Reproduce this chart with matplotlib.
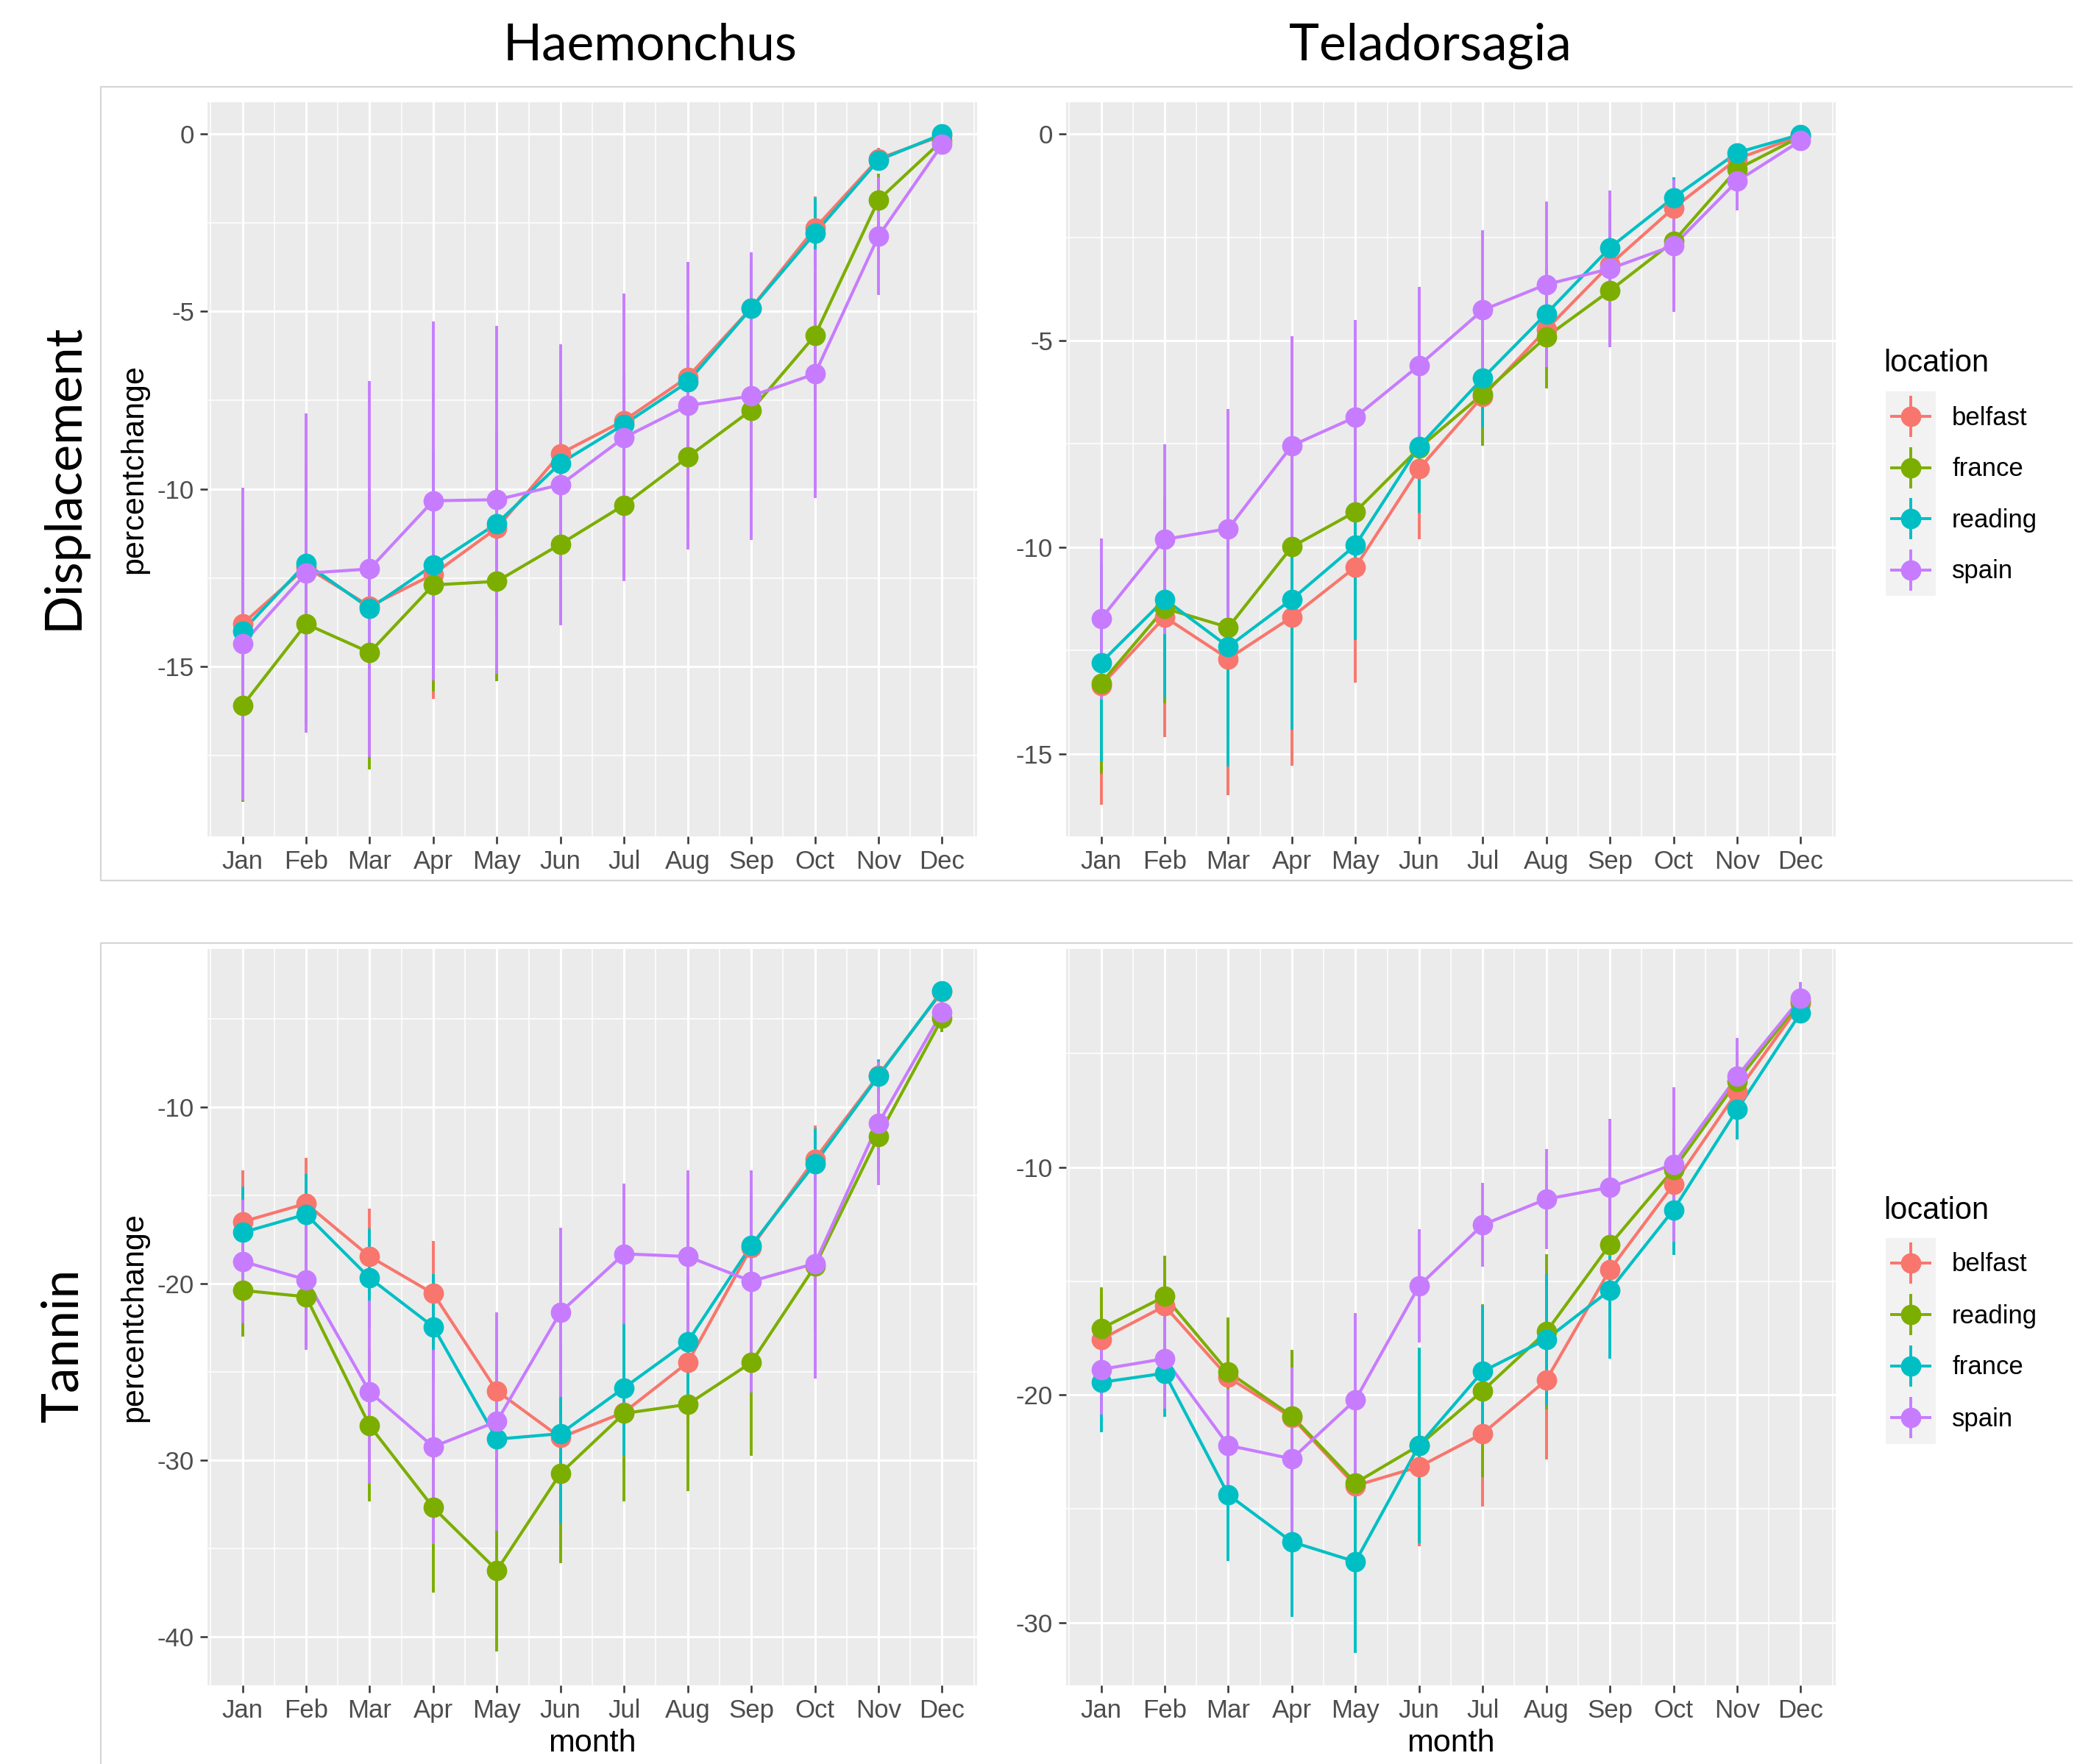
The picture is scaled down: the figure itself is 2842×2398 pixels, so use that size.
import matplotlib
matplotlib.use("Agg")
import matplotlib.pyplot as plt
import numpy as np
from matplotlib.patches import Rectangle

plt.rcParams['font.family'] = ['Liberation Sans', 'DejaVu Sans']
plt.rcParams['axes.unicode_minus'] = False

# --- Data ---
months = ["Jan", "Feb", "Mar", "Apr", "May", "Jun", "Jul", "Aug", "Sep", "Oct", "Nov", "Dec"]
colors = ["#F8766D", "#7CAE00", "#00BFC4", "#C77CFF"]
legend_top = ["belfast", "france", "reading", "spain"]
legend_bottom = ["belfast", "reading", "france", "spain"]

# Haemonchus / Displacement  (series order: red, green, cyan, purple)
haem_disp = [
    [-13.8, -12.2, -13.3, -12.4, -11.1, -9.0, -8.07, -6.85, -4.9, -2.66, -0.7, -0.05],
    [-16.1, -13.8, -14.6, -12.7, -12.6, -11.55, -10.45, -9.1, -7.78, -5.68, -1.86, -0.19],
    [-14.0, -12.1, -13.36, -12.14, -10.97, -9.27, -8.18, -6.99, -4.91, -2.8, -0.74, -0.01],
    [-14.36, -12.37, -12.25, -10.33, -10.3, -9.88, -8.55, -7.65, -7.38, -6.76, -2.88, -0.3],
]
haem_disp_err = [
    [2.9, 2.9, 3.2, 3.5, 2.9, 1.8, 1.4, 1.5, 1.3, 0.9, 0.3, 0.1],
    [2.7, 2.8, 3.3, 3.0, 2.8, 2.2, 2.0, 2.0, 2.0, 1.8, 0.75, 0.15],
    [2.5, 2.2, 3.0, 3.2, 2.6, 1.8, 1.4, 1.4, 1.3, 1.0, 0.3, 0.05],
    [4.4, 4.5, 5.3, 5.05, 4.9, 3.95, 4.05, 4.05, 4.05, 3.5, 1.65, 0.2],
]

# Teladorsagia / Displacement
tela_disp = [
    [-13.35, -11.69, -12.7, -11.69, -10.48, -8.1, -6.35, -4.73, -3.16, -1.79, -0.6, -0.04],
    [-13.29, -11.48, -11.94, -9.99, -9.14, -7.6, -6.29, -4.91, -3.79, -2.6, -0.85, -0.06],
    [-12.79, -11.26, -12.41, -11.26, -9.95, -7.56, -5.91, -4.35, -2.75, -1.54, -0.45, -0.01],
    [-11.73, -9.81, -9.55, -7.54, -6.85, -5.6, -4.26, -3.64, -3.26, -2.7, -1.14, -0.16],
]
tela_disp_err = [
    [2.88, 2.9, 3.3, 3.6, 2.8, 1.7, 1.1, 1.0, 0.9, 0.6, 0.3, 0.05],
    [2.2, 2.3, 2.6, 2.5, 2.1, 1.5, 1.25, 1.25, 1.3, 0.9, 0.35, 0.05],
    [2.4, 2.4, 2.9, 3.15, 2.3, 1.6, 1.2, 1.1, 0.9, 0.5, 0.2, 0.03],
    [1.95, 2.3, 2.9, 2.65, 2.35, 1.9, 1.93, 2.0, 1.9, 1.6, 0.7, 0.1],
]

# Haemonchus / Tannin
haem_tan = [
    [-16.49, -15.46, -18.46, -20.56, -26.08, -28.72, -27.29, -24.47, -17.95, -12.94, -8.18, -3.45],
    [-20.38, -20.74, -28.05, -32.69, -36.24, -30.75, -27.35, -26.84, -24.47, -19.01, -11.64, -4.96],
    [-17.1, -16.07, -19.68, -22.44, -28.81, -28.5, -25.9, -23.29, -17.83, -13.19, -8.24, -3.39],
    [-18.74, -19.77, -26.14, -29.24, -27.81, -21.62, -18.31, -18.46, -19.86, -18.86, -10.91, -4.6],
]
haem_tan_err = [
    [2.9, 2.6, 2.7, 3.0, 3.5, 3.5, 3.2, 3.3, 2.5, 1.9, 0.9, 0.5],
    [2.6, 2.8, 4.3, 4.8, 4.6, 5.1, 5.0, 4.9, 5.3, 3.7, 2.0, 0.8],
    [2.6, 2.3, 2.8, 3.0, 4.0, 5.1, 3.8, 3.7, 2.8, 2.0, 0.9, 0.4],
    [3.5, 4.0, 5.2, 5.5, 6.2, 4.8, 4.0, 4.9, 6.3, 6.5, 3.5, 0.9],
]

# Teladorsagia / Tannin
tela_tan = [
    [-17.55, -16.09, -19.22, -20.99, -23.98, -23.15, -21.69, -19.34, -14.49, -10.75, -6.68, -2.8],
    [-17.08, -15.67, -18.99, -20.92, -23.86, -22.21, -19.81, -17.22, -13.39, -10.09, -6.21, -2.68],
    [-19.44, -19.04, -24.38, -26.45, -27.32, -22.21, -18.96, -17.55, -15.39, -11.86, -7.46, -3.2],
    [-18.87, -18.4, -22.21, -22.8, -20.21, -15.2, -12.52, -11.39, -10.87, -9.86, -6.0, -2.56],
]
tela_tan_err = [
    [2.0, 2.0, 2.5, 2.9, 3.3, 3.5, 3.2, 3.5, 2.6, 1.8, 1.0, 0.4],
    [1.8, 1.8, 2.4, 2.9, 3.5, 4.2, 3.8, 3.4, 2.5, 1.8, 0.9, 0.4],
    [2.2, 1.9, 2.9, 3.3, 4.0, 4.3, 2.9, 2.9, 3.0, 2.0, 1.3, 0.4],
    [2.0, 2.2, 2.5, 4.0, 3.8, 2.5, 1.85, 2.2, 3.0, 3.4, 1.7, 0.7],
]

W, H = 2842, 2398
fig = plt.figure(figsize=(W / 100, H / 100), dpi=100)

# --- overlay in pixel coordinates for frames, titles, legends ---
ov = fig.add_axes([0, 0, 1, 1])
ov.set_xlim(0, W)
ov.set_ylim(H, 0)
ov.axis("off")

frame = "#D6D6D6"
ov.plot([2816, 137, 137, 2816], [118, 118, 1197, 1197], color=frame, lw=1.6)
ov.plot([2816, 137, 137], [1282, 1282, H], color=frame, lw=1.6)

title_font = ['Lato', 'DejaVu Sans']
ov.text(884, 81, "Haemonchus", family=title_font, fontsize=50, ha="center", va="baseline")
ov.text(1944, 81, "Teladorsagia", family=title_font, fontsize=50, ha="center", va="baseline")
ov.text(86, 648, "Displacement", family=title_font, fontsize=50, rotation=90, ha="center", va="center")
ov.text(86, 1829, "Tannin", family=title_font, fontsize=50, rotation=90, ha="center", va="center")


def draw_legend(labels, title_y, top, step):
    ov.text(2560, title_y, "location", fontsize=30, ha="left", va="baseline")
    ov.add_patch(Rectangle((2563, top - 34), 68, step * len(labels), color="#F2F2F2", lw=0))
    for i, lab in enumerate(labels):
        cy = top + i * step
        ov.plot([2569, 2625], [cy, cy], color=colors[i], lw=2.8, solid_capstyle="butt")
        ov.plot([2597, 2597], [cy - 28, cy + 28], color=colors[i], lw=2.8, solid_capstyle="butt")
        ov.plot([2597], [cy], "o", ms=20, color=colors[i], mec="none")
        ov.text(2653, cy + 2, lab, fontsize=25, ha="left", va="center")


draw_legend(legend_top, 505, 566, 69.5)
draw_legend(legend_bottom, 1657, 1717, 70)


def px_axes(x0, y0, x1, y1):
    return fig.add_axes([x0 / W, 1 - y1 / H, (x1 - x0) / W, (y1 - y0) / H])


def draw_panel(ax, vals, errs, ylim, yticks, yminor, ylabel=False, xlabel=False):
    x = np.arange(1, 13)
    ax.set_facecolor("#EBEBEB")
    for sp in ax.spines.values():
        sp.set_visible(False)
    for i in range(4):
        v = np.array(vals[i])
        e = np.array(errs[i])
        ax.vlines(x, v - e, v + e, color=colors[i], lw=2.8, zorder=2)
    for i in range(4):
        ax.plot(x, vals[i], color=colors[i], lw=3.0, zorder=3)
    for i in range(4):
        ax.plot(x, vals[i], "o", ms=20, color=colors[i], mec="none", zorder=4)
    ax.set_xlim(0.45, 12.55)
    ax.set_ylim(ylim)
    ax.set_xticks(x)
    ax.set_xticklabels(months)
    ax.set_xticks(np.arange(0.5, 13, 1), minor=True)
    ax.set_yticks(yticks)
    ax.set_yticklabels([str(t) for t in yticks])
    ax.set_yticks(yminor, minor=True)
    ax.grid(which="major", color="white", lw=2.2)
    ax.grid(which="minor", color="white", lw=1.1)
    ax.set_axisbelow(True)
    ax.tick_params(which="major", length=7, width=1.8, color="#333333",
                   labelsize=25, labelcolor="#4D4D4D", pad=6)
    ax.tick_params(which="minor", length=0)
    if ylabel:
        ax.set_ylabel("percentchange", fontsize=31, labelpad=8)
    if xlabel:
        ax.set_xlabel("month", fontsize=31, labelpad=6)


ax1 = px_axes(282, 139, 1328, 1137)
draw_panel(ax1, haem_disp, haem_disp_err, (-19.78, 0.89), [0, -5, -10, -15],
           [-2.5, -7.5, -12.5, -17.5], ylabel=True)

ax2 = px_axes(1449, 139, 2495, 1137)
draw_panel(ax2, tela_disp, tela_disp_err, (-17.0, 0.77), [0, -5, -10, -15],
           [-2.5, -7.5, -12.5])

ax3 = px_axes(282, 1290, 1328, 2291)
draw_panel(ax3, haem_tan, haem_tan_err, (-42.76, -1.03), [-10, -20, -30, -40],
           [-5, -15, -25, -35], ylabel=True, xlabel=True)

ax4 = px_axes(1449, 1290, 2495, 2291)
draw_panel(ax4, tela_tan, tela_tan_err, (-32.75, -0.4), [-10, -20, -30],
           [-5, -15, -25], xlabel=True)

fig.savefig("out.png", dpi=100)
